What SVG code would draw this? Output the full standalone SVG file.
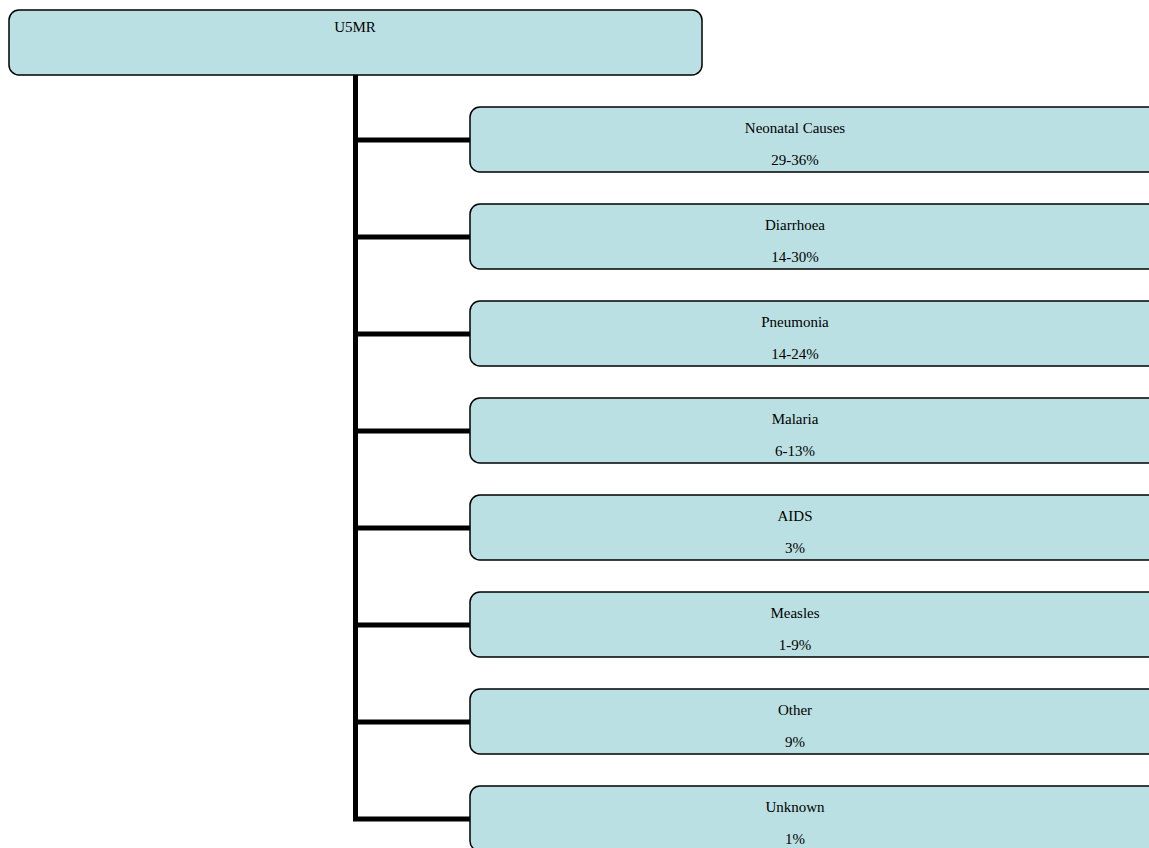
<svg xmlns="http://www.w3.org/2000/svg" width="1149" height="848" viewBox="0 0 1149 848">
<style>
.box{fill:#BBE0E3;stroke:#000;stroke-width:1.5}
.t{font-family:"Liberation Serif","Times New Roman",serif;font-size:15px;fill:#000;text-anchor:middle}
.c{stroke:#000;stroke-width:5;fill:none}
</style>
<rect width="1149" height="848" fill="#fff"/>
<g id="connectors">
<path class="c" d="M355.5 75 V819.5"/>
<path class="c" d="M353 140 H471"/>
<path class="c" d="M353 237 H471"/>
<path class="c" d="M353 334 H471"/>
<path class="c" d="M353 431 H471"/>
<path class="c" d="M353 528 H471"/>
<path class="c" d="M353 625 H471"/>
<path class="c" d="M353 722 H471"/>
<path class="c" d="M353 819 H471"/>
</g>
<g id="u5mr"><rect class="box" x="9" y="10" width="693" height="65" rx="10"/><text class="t" x="355" y="32">U5MR</text></g>
<g id="neonatal"><rect class="box" x="470" y="107" width="700" height="65" rx="10"/><text class="t" x="795" y="133">Neonatal Causes</text><text class="t" x="795" y="165">29-36%</text></g>
<g id="diarrhoea"><rect class="box" x="470" y="204" width="700" height="65" rx="10"/><text class="t" x="795" y="230">Diarrhoea</text><text class="t" x="795" y="262">14-30%</text></g>
<g id="pneumonia"><rect class="box" x="470" y="301" width="700" height="65" rx="10"/><text class="t" x="795" y="327">Pneumonia</text><text class="t" x="795" y="359">14-24%</text></g>
<g id="malaria"><rect class="box" x="470" y="398" width="700" height="65" rx="10"/><text class="t" x="795" y="424">Malaria</text><text class="t" x="795" y="456">6-13%</text></g>
<g id="aids"><rect class="box" x="470" y="495" width="700" height="65" rx="10"/><text class="t" x="795" y="521">AIDS</text><text class="t" x="795" y="553">3%</text></g>
<g id="measles"><rect class="box" x="470" y="592" width="700" height="65" rx="10"/><text class="t" x="795" y="618">Measles</text><text class="t" x="795" y="650">1-9%</text></g>
<g id="other"><rect class="box" x="470" y="689" width="700" height="65" rx="10"/><text class="t" x="795" y="715">Other</text><text class="t" x="795" y="747">9%</text></g>
<g id="unknown"><rect class="box" x="470" y="786" width="700" height="65" rx="10"/><text class="t" x="795" y="812">Unknown</text><text class="t" x="795" y="844">1%</text></g>
</svg>
